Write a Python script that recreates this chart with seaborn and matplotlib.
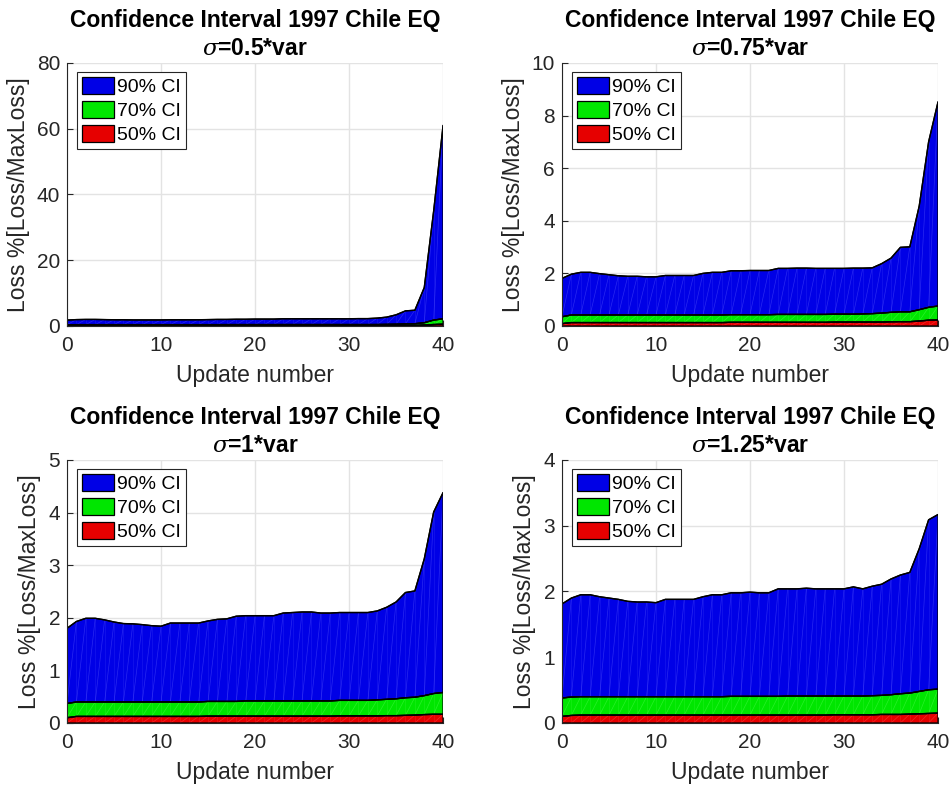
import numpy as np
import pandas as pd
import matplotlib
matplotlib.use("Agg")
import matplotlib.pyplot as plt
from matplotlib.patches import Patch
import seaborn as sns

# Update index
updates = list(range(41))

# sigma = 0.5*var
ci90_s050 = [1.8, 1.95, 2.0, 2.0, 1.95, 1.9, 1.9, 1.85, 1.85, 1.85, 1.85, 1.9, 1.9, 1.9, 1.9,
             1.95, 2.0, 2.0, 2.05, 2.05, 2.1, 2.1, 2.1, 2.2, 2.2, 2.2, 2.2, 2.2, 2.2, 2.2,
             2.2, 2.25, 2.25, 2.4, 2.7, 3.4, 4.6, 4.8, 11.7, 35.0, 61.0]
ci70_s050 = [0.38, 0.42, 0.42, 0.42, 0.42, 0.42, 0.42, 0.42, 0.42, 0.42, 0.42, 0.42, 0.42, 0.42, 0.42,
             0.42, 0.42, 0.43, 0.43, 0.43, 0.43, 0.43, 0.43, 0.44, 0.44, 0.44, 0.44, 0.44, 0.44, 0.44,
             0.44, 0.44, 0.44, 0.45, 0.5, 0.55, 0.65, 0.7, 1.0, 1.8, 2.2]
ci50_s050 = [0.1, 0.13, 0.13, 0.13, 0.13, 0.13, 0.13, 0.13, 0.13, 0.13, 0.13, 0.13, 0.13, 0.13, 0.13,
             0.13, 0.13, 0.13, 0.13, 0.13, 0.14, 0.14, 0.14, 0.14, 0.14, 0.14, 0.14, 0.14, 0.14, 0.14,
             0.14, 0.14, 0.14, 0.15, 0.16, 0.17, 0.19, 0.2, 0.3, 0.45, 0.55]

# sigma = 0.75*var
ci90_s075 = [1.81, 1.97, 2.04, 2.04, 1.99, 1.95, 1.91, 1.89, 1.89, 1.87, 1.87, 1.92, 1.92, 1.92, 1.92,
             2.0, 2.04, 2.04, 2.1, 2.1, 2.11, 2.11, 2.11, 2.19, 2.19, 2.2, 2.2, 2.19, 2.19, 2.19,
             2.19, 2.2, 2.2, 2.21, 2.37, 2.58, 2.99, 3.01, 4.56, 7.0, 8.52]
ci70_s075 = [0.35, 0.42, 0.42, 0.42, 0.42, 0.42, 0.42, 0.42, 0.42, 0.42, 0.42, 0.42, 0.42, 0.42, 0.42,
             0.42, 0.42, 0.42, 0.43, 0.43, 0.43, 0.43, 0.43, 0.44, 0.44, 0.44, 0.44, 0.44, 0.44, 0.45,
             0.45, 0.45, 0.46, 0.47, 0.49, 0.52, 0.54, 0.54, 0.62, 0.71, 0.76]
ci50_s075 = [0.09, 0.13, 0.13, 0.13, 0.13, 0.13, 0.13, 0.13, 0.13, 0.13, 0.13, 0.13, 0.13, 0.13, 0.13,
             0.13, 0.13, 0.13, 0.14, 0.14, 0.14, 0.14, 0.14, 0.14, 0.14, 0.14, 0.14, 0.14, 0.14, 0.15,
             0.15, 0.15, 0.15, 0.15, 0.15, 0.16, 0.165, 0.165, 0.19, 0.22, 0.23]

# sigma = 1*var
ci90_s100 = [1.80, 1.93, 1.99, 1.99, 1.96, 1.92, 1.89, 1.885, 1.87, 1.85, 1.84, 1.90, 1.90, 1.90, 1.90,
             1.94, 1.97, 1.98, 2.03, 2.04, 2.04, 2.04, 2.04, 2.09, 2.10, 2.11, 2.11, 2.09, 2.09, 2.10,
             2.10, 2.10, 2.10, 2.13, 2.20, 2.30, 2.48, 2.51, 3.12, 4.01, 4.38]
ci70_s100 = [0.37, 0.40, 0.40, 0.40, 0.40, 0.40, 0.40, 0.40, 0.40, 0.40, 0.40, 0.40, 0.40, 0.40, 0.40,
             0.41, 0.41, 0.41, 0.41, 0.42, 0.42, 0.42, 0.42, 0.42, 0.42, 0.42, 0.42, 0.42, 0.42, 0.43,
             0.43, 0.43, 0.43, 0.44, 0.45, 0.46, 0.48, 0.49, 0.52, 0.56, 0.58]
ci50_s100 = [0.10, 0.125, 0.125, 0.125, 0.125, 0.125, 0.125, 0.125, 0.125, 0.125, 0.125, 0.125, 0.125, 0.125, 0.125,
             0.13, 0.13, 0.13, 0.13, 0.13, 0.13, 0.13, 0.13, 0.13, 0.13, 0.13, 0.13, 0.13, 0.13, 0.135,
             0.135, 0.135, 0.135, 0.135, 0.14, 0.14, 0.145, 0.15, 0.16, 0.165, 0.165]

# sigma = 1.25*var
ci90_s125 = [1.81, 1.90, 1.95, 1.95, 1.92, 1.90, 1.88, 1.85, 1.84, 1.84, 1.83, 1.88, 1.88, 1.88, 1.88,
             1.92, 1.95, 1.95, 1.98, 1.98, 1.99, 1.98, 1.98, 2.04, 2.04, 2.04, 2.05, 2.04, 2.04, 2.04,
             2.04, 2.07, 2.04, 2.08, 2.11, 2.19, 2.25, 2.29, 2.65, 3.09, 3.17]
ci70_s125 = [0.38, 0.395, 0.40, 0.40, 0.40, 0.40, 0.40, 0.40, 0.40, 0.40, 0.40, 0.40, 0.40, 0.40, 0.40,
             0.40, 0.40, 0.40, 0.405, 0.405, 0.405, 0.405, 0.405, 0.405, 0.41, 0.41, 0.41, 0.41, 0.41, 0.41,
             0.41, 0.41, 0.41, 0.415, 0.42, 0.43, 0.445, 0.455, 0.48, 0.505, 0.515]
ci50_s125 = [0.10, 0.115, 0.12, 0.12, 0.12, 0.12, 0.12, 0.12, 0.12, 0.12, 0.12, 0.12, 0.12, 0.12, 0.12,
             0.12, 0.12, 0.12, 0.12, 0.12, 0.12, 0.12, 0.12, 0.12, 0.12, 0.12, 0.12, 0.12, 0.12, 0.125,
             0.125, 0.125, 0.125, 0.125, 0.13, 0.13, 0.13, 0.135, 0.14, 0.145, 0.15]

sigma_labels = ["0.5", "0.75", "1", "1.25"]
y_limits = [80, 10, 5, 4]
y_steps = [20, 2, 1, 1]
band_labels = ["90% CI", "70% CI", "50% CI"]
band_colors = ["#0000e6", "#00e600", "#e60000"]
shade_colors = ["#5a5aff", "#5aff5a", "#ff5a5a"]

panels = [
    (ci90_s050, ci70_s050, ci50_s050),
    (ci90_s075, ci70_s075, ci50_s075),
    (ci90_s100, ci70_s100, ci50_s100),
    (ci90_s125, ci70_s125, ci50_s125),
]

sns.set_style("whitegrid")
plt.rcParams["font.family"] = ["Liberation Sans", "DejaVu Sans"]
plt.rcParams["mathtext.fontset"] = "dejavuserif"

fig = plt.figure(figsize=(9.52, 7.88), dpi=100)
ax_w, ax_h = 0.395, 0.3338
positions = [
    (0.0704, 0.5863), (0.5903, 0.5863),
    (0.0704, 0.0825), (0.5903, 0.0825),
]
text_gray = "#262626"

for k, (bands, pos) in enumerate(zip(panels, positions)):
    ax = fig.add_axes([pos[0], pos[1], ax_w, ax_h])
    x = np.array(updates, dtype=float)
    uppers = [np.array(b, dtype=float) for b in bands]
    lowers = [uppers[1], uppers[2], np.zeros_like(x)]

    df = pd.DataFrame({"update": updates})
    for lab, up in zip(band_labels, uppers):
        df[lab] = up

    for lab, up, lo, col, shade in zip(band_labels, uppers, lowers, band_colors, shade_colors):
        ax.fill_between(x, lo, up, facecolor=col, edgecolor="none", zorder=2)
        # faint triangulation seams inside the patch
        for i in range(len(x) - 1):
            ax.plot([x[i], x[i + 1]], [lo[i], up[i + 1]], color=shade, lw=0.5, alpha=0.45, zorder=2.5)
            ax.plot([x[i + 1], x[i + 1]], [lo[i + 1], up[i + 1]], color=shade, lw=0.5, alpha=0.25, zorder=2.5)
        # patch outline
        outline_x = np.concatenate([x, x[::-1], x[:1]])
        outline_y = np.concatenate([up, lo[::-1], up[:1]])
        ax.plot(outline_x, outline_y, color="black", lw=0.9, zorder=3)
        sns.lineplot(data=df, x="update", y=lab, ax=ax, color="black", lw=1.0, zorder=4,
                     legend=False)

    ax.set_xlim(0, 40)
    ax.set_ylim(0, y_limits[k])
    ax.set_xticks(range(0, 41, 10))
    ax.set_yticks(np.arange(0, y_limits[k] + 0.001, y_steps[k]))
    ax.yaxis.set_major_formatter(matplotlib.ticker.FormatStrFormatter("%g"))
    ax.grid(True, color="#e3e3e3", lw=1.0)
    ax.set_axisbelow(True)
    for side in ["top", "right"]:
        ax.spines[side].set_visible(False)
    for side in ["left", "bottom"]:
        ax.spines[side].set_visible(True)
        ax.spines[side].set_color(text_gray)
        ax.spines[side].set_linewidth(0.8)
        ax.spines[side].set_zorder(5)
    ax.tick_params(axis="y", direction="in", length=4, width=0.8, colors=text_gray,
                   labelsize=15, pad=5, left=True)
    ax.tick_params(axis="x", direction="in", length=4, width=0.8, colors=text_gray,
                   labelsize=15, pad=7, bottom=True)
    ax.set_xlabel("Update number", fontsize=16.5, color=text_gray, labelpad=7)
    ax.set_ylabel("Loss %[Loss/MaxLoss]", fontsize=16.5, color=text_gray, labelpad=5)
    ax.set_title("Confidence Interval 1997 Chile EQ\n" + r"$\sigma$" + "=" + sigma_labels[k] + "*var",
                 fontsize=16.5, fontweight="bold", color="black", pad=6, linespacing=1.25)

    handles = [Patch(facecolor=c, edgecolor="black", lw=0.9) for c in band_colors]
    leg = ax.legend(handles, band_labels, loc="upper left", bbox_to_anchor=(0.027, 0.965),
                    fontsize=14, frameon=True, fancybox=False, handlelength=1.65, handleheight=0.95,
                    handletextpad=0.15, labelspacing=0.25, borderpad=0.25, borderaxespad=0.0)
    leg.get_frame().set_edgecolor(text_gray)
    leg.get_frame().set_linewidth(0.8)
    leg.get_frame().set_alpha(1.0)
    for t in leg.get_texts():
        t.set_color("black")
    leg.set_zorder(10)

fig.savefig("out.png", dpi=100)
